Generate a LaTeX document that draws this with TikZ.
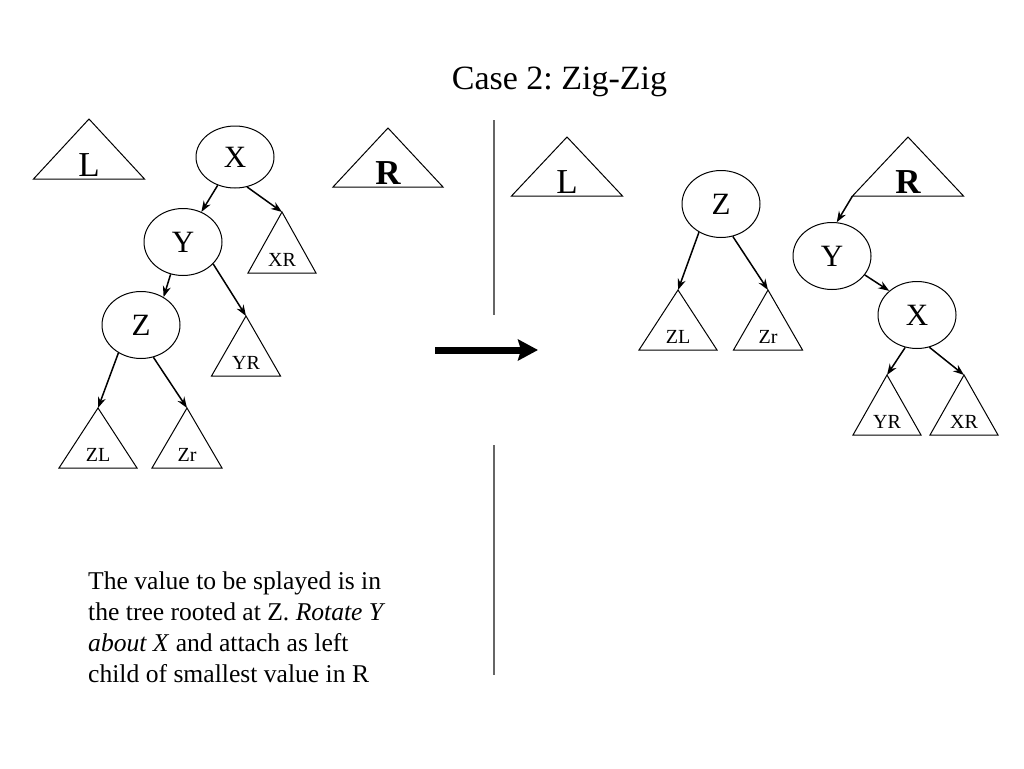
\documentclass[tikz,border=0pt]{standalone}
\usepackage{fontspec}
\setmainfont{Liberation Serif}
\frenchspacing
\usetikzlibrary{shapes.geometric, arrows.meta}
\tikzstyle{treenode} = [ellipse, draw=black, line width=1pt, minimum width=78pt, minimum height=67pt, inner sep=0pt, font=\fontsize{31}{36}\selectfont]
\tikzstyle{subtree} = [draw=black, line width=1pt]
\tikzstyle{biglabel} = [font=\fontsize{35}{40}\selectfont, inner sep=0pt, anchor=base, yshift=3pt]
\tikzstyle{smalllabel} = [font=\fontsize{20}{24}\selectfont, inner sep=0pt, anchor=base, yshift=7pt]
\tikzstyle{arrow} = [line width=1.5pt, -{Stealth[length=11pt,width=8pt]}]
\tikzstyle{bigarrow} = [line width=7pt, -{Stealth[length=20pt,width=21pt,inset=3pt]}]
\tikzstyle{divider} = [line width=1.5pt, black!60]
% sous-arbre : nom, sommet, demi-largeur, hauteur, style, texte
\newcommand{\subtreeAt}[6]{%
  \coordinate (#1) at (#2);
  \draw[subtree] (#1) -- ++(-#3,#4) coordinate (#1-bl) -- ++(2*#3,0) coordinate (#1-br) -- cycle;
  \path (#1-bl) -- (#1-br) node[#5, pos=0.5] (#1-txt) {#6};
}

\begin{document}
\begin{tikzpicture}[x=1pt, y=-1pt]
        \useasboundingbox (0,0) rectangle (1024,768);

        % Titre
        \node[font=\fontsize{34}{40}\selectfont, anchor=base, inner sep=0pt] (title) at (559.5,89) {Case 2: Zig-Zig};

        % Arbre avant
        \node (xOld) [treenode, minimum height=62pt] at (235,157) {X};
        \node (yOld) [treenode] at (183,242) {Y};
        \node (zOld) [treenode] at (141,325) {Z};
        \subtreeAt{lOld}{89,119}{55.5}{60}{biglabel}{L}
        \subtreeAt{rOld}{388,128}{55}{59}{biglabel}{\bfseries R}
        \subtreeAt{xrOld}{282,212}{34}{61}{smalllabel}{XR}
        \subtreeAt{yrOld}{246,316}{34.5}{60}{smalllabel}{YR}
        \subtreeAt{zlOld}{98,408}{39}{60}{smalllabel}{ZL}
        \subtreeAt{zrOld}{187,408}{35}{60}{smalllabel}{Zr}

        % Arbre apres
        \node (zNew) [treenode] at (721,204) {Z};
        \node (yNew) [treenode] at (832,256) {Y};
        \node (xNew) [treenode] at (917,315) {X};
        \subtreeAt{lNew}{567,137}{55.5}{59}{biglabel}{L}
        \subtreeAt{rNew}{908,137}{55.5}{59}{biglabel}{\bfseries R}
        \subtreeAt{zlNew}{678,290}{39}{60}{smalllabel}{ZL}
        \subtreeAt{zrNew}{768,290}{34.5}{60}{smalllabel}{Zr}
        \subtreeAt{yrNew}{887,375}{34}{60}{smalllabel}{YR}
        \subtreeAt{xrNew}{964,375}{34}{60}{smalllabel}{XR}

        % Separation et grande fleche
        \coordinate (sepTop) at (494,120);
        \coordinate (sepMidA) at (494,315);
        \coordinate (sepMidB) at (494,445);
        \coordinate (sepBot) at (494,675);
        \coordinate (arrowStart) at (435,350);
        \coordinate (arrowEnd) at (538,350);

        % Texte
        \node (note) [anchor=north west, inner sep=0pt, align=left, font=\fontsize{25.6}{30.7}\selectfont] at (88,572) {The value to be splayed is in\\the tree rooted at Z. \textit{Rotate Y}\\\textit{about X} and attach as left\\child of smallest value in R};

        % Fleches avant
        \draw [arrow] (xOld) -- (yOld);
        \draw [arrow] (xOld.-68) -- (xrOld);
        \draw [arrow] (yOld.-111) -- (zOld.51);
        \draw [arrow] (yOld.-36) -- (yrOld);
        \draw [arrow] (zOld.-129) -- (zlOld);
        \draw [arrow] (zOld.-69) -- (zrOld);

        % Fleches apres
        \draw [arrow] (rNew-bl) -- (yNew.82);
        \draw [arrow] (yNew.-30) -- (xNew.139);
        \draw [arrow] (zNew.-128) -- (zlNew);
        \draw [arrow] (zNew.-70) -- (zrNew);
        \draw [arrow] (xNew.-110) -- (yrNew);
        \draw [arrow] (xNew.-69) -- (xrNew);

        \draw [divider] (sepTop) -- (sepMidA);
        \draw [divider] (sepMidB) -- (sepBot);
        \draw [bigarrow] (arrowStart) -- (arrowEnd);

    \end{tikzpicture}
\end{document}
